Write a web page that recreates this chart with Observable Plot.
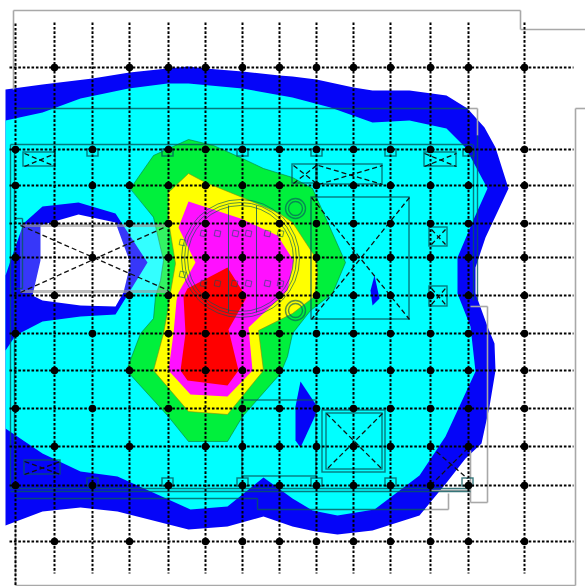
<!DOCTYPE html>
<html><head><meta charset="utf-8">
<script src="https://cdn.jsdelivr.net/npm/d3@7"></script>
<script src="https://cdn.jsdelivr.net/npm/@observablehq/plot@0.6"></script>
<style>html,body{margin:0;background:#fff}svg{display:block;filter:blur(.55px)}</style>
</head><body><div id="c"></div><script>
// contour bands (plan coordinates)
const outerBlue=[[5,89],[42,84],[92,78],[129,72],[167,68],[188,66],[205,68],[242,71],[279,75],[292,76],[316,79],[353,87],[372,90],[409,90],[446,95],[467,108],[484,127],[495,147],[508,188],[485,237],[475,267],[475,293],[487,326],[494,343],[495,370],[489,406],[481,443],[465,458],[447,481],[419,515],[372,530],[337,534],[315,531],[292,526],[263,516],[227,526],[188,529],[117,511],[80,507],[42,511],[5,525]];
const cyanField=[[5,120],[42,112],[80,98],[128,88],[167,83],[188,83],[242,88],[292,97],[330,107],[372,122],[409,120],[446,128],[465,147],[487,188],[474,217],[457,257],[457,293],[470,326],[475,371],[445,436],[419,475],[374,509],[337,515],[312,510],[292,498],[263,477],[227,506],[190,509],[117,476],[80,471],[42,453],[5,428]];
const holeRing=[[5,275],[23,223],[42,206],[78,202],[115,213],[128,233],[147,262],[128,293],[115,314],[80,316],[42,321],[15,335],[5,350]];
const holeWhite=[[40,225],[78,214],[115,222],[130,263],[123,292],[115,306],[80,305],[42,300],[32,295],[40,260]];
const greenBand=[[130,188],[153,155],[188,139],[213,145],[242,158],[263,168],[292,177],[312,188],[325,217],[345,262],[332,293],[310,310],[292,333],[287,356],[280,373],[242,416],[227,441],[188,441],[167,415],[126,370],[140,333],[153,318],[155,296],[160,280],[163,260],[153,217]];
const yellowBand=[[168,192],[188,173],[205,182],[242,197],[279,213],[292,222],[315,257],[317,273],[314,296],[292,313],[258,330],[263,370],[227,414],[188,411],[153,370],[163,333],[168,306],[170,292],[175,263],[168,220]];
const magentaBand=[[188,201],[240,218],[277,235],[293,260],[287,290],[248,327],[252,370],[227,396],[190,394],[168,370],[173,333],[176,300],[178,292],[195,262],[178,227]];
const redBand=[[227,267],[246,297],[228,329],[238,370],[227,385],[187,380],[180,370],[185,333],[183,296],[187,288]];
const blueSpot1=[[300,381],[318,408],[300,447],[295,440],[295,406]];
const blueSpot2=[[372,305],[379,298],[374,275],[370,290]];

// column grid
const colX=[15,54,92,129,168,205,242,279,316,353,390,430,468,524];
const rowY=[67,149,185,223,257,295,333,370,408,446,485,541];
const nodeCols={67:[54,129,168,205,242,279,316,353,390,430,468,524],
149:[15,92,168,205,242,279,316,353,390,430,468,524],
185:[15,92,129,168,205,242,279,316,353,390,430,468,524],
223:[54,129,168,205,242,279,316,353,390,430,468,524],
257:[15,92,168,205,242,279,316,353,390,430,468,524],
295:[54,129,168,205,242,279,316,353,390,430,468,524],
333:[15,92,168,205,242,279,316,353,390,430,468,524],
370:[54,129,205,242,279,316,353,390,430,468,524],
408:[15,92,168,242,279,316,353,390,430,468,524],
446:[54,129,205,242,279,316,353,390,430,468,524],
485:[15,92,168,242,279,316,353,390,430,468,524],
541:[54,129,205,242,279,316,353,390,430,468,524]};

// plan drawing
const grayLines=[[13,10,520,10],[520,10,520,29],[520,29,585,29],[13,10,13,89],[15,525,15,585],[15,585,575,585],[575,585,575,108],[575,108,585,108],[467,108,477,108],[477,108,477,135],[470,306,487,306],[487,306,487,502],[487,502,470,502],[470,502,470,450],[448,493,448,509],[448,509,425,509],[430,490,470,490]];
const wallLines=[[13,108,467,108],[10,144,472,144],[10,144,10,488],[14,146,14,486],[10,488,470,488],[10,491,470,491],[15,498,257,498],[257,498,257,509],[257,509,425,509],[473,144,473,300],[477,135,477,300],[16,218,22,218],[22,218,22,288],[16,288,22,288]];
const boxes=[[23,152,55,166],[24,460,60,474],[292,164,316,183],[317,164,382,184],[424,152,456,166],[429,227,447,246],[429,286,447,306],[311,197,409,319],[322,410,385,472],[326,413,382,469],[242,400,316,476]];
const tabs=[[87,149,98,156],[162,149,173,156],[237,149,248,156],[311,149,322,156],[385,149,396,156],[463,149,474,156],[87,478,98,486],[162,478,173,486],[237,478,248,486],[311,478,322,486],[385,478,396,486],[462,478,473,486]];
const crosses=[[20,225,168,290],[20,292,168,225],[24,153,55,166],[24,166,55,153],[24,461,60,474],[24,474,60,461],[293,165,316,183],[293,183,316,165],[318,165,382,184],[318,184,382,165],[424,153,456,166],[424,166,456,153],[431,229,445,244],[431,244,445,229],[431,288,445,304],[431,304,445,288],[311,197,409,319],[409,197,311,319],[326,413,382,469],[382,413,326,469],[430,446,467,478],[430,485,467,448]];
const domeLines=[[228,205,228,312],[256,205,256,312]];
const domeRings=[[240,258,53],[240,258,59],[240,258,56]];
const columnRings=[[295,208,10],[295,208,7],[295,310,10],[295,310,7]];
const padX=[203,217,235,248,267,280,203,217,234,248,267,280,182,182];
const padY=[233,233,233,233,233,233,283,283,283,283,283,283,242,274];

const poly=(pts,fill,stroke="none")=>Plot.line(pts,{x:d=>d[0],y:d=>d[1],fill,stroke,strokeWidth:.6,curve:"linear-closed"});
const segs=(arr,o)=>Plot.link(arr,{x1:d=>d[0],y1:d=>d[1],x2:d=>d[2],y2:d=>d[3],...o});
const rects=(arr,o)=>Plot.rect(arr,{x1:d=>d[0],y1:d=>d[1],x2:d=>d[2],y2:d=>d[3],fill:"none",...o});
const nodes=rowY.flatMap(y=>nodeCols[y].map(x=>[x,y]));
const teal={stroke:"#07585c",strokeWidth:1.4,strokeOpacity:.8};
const ringStyle={fill:"none",stroke:"#07585c",strokeWidth:1,strokeOpacity:.65};

const chart=Plot.plot({
  width:585,height:586,margin:0,
  x:{domain:[0,585],range:[0,585],axis:null},
  y:{domain:[0,586],range:[0,586],axis:null},
  r:{type:"identity"},
  marks:[
    poly(outerBlue,"#0505f8"),
    poly(cyanField,"#00ffff"),
    poly(holeRing,"#0505f8"),
    poly(holeWhite,"#ffffff"),
    poly(blueSpot1,"#0505f8"),
    poly(blueSpot2,"#0505f8"),
    poly(greenBand,"#00f03c","#0a7a3a"),
    poly(yellowBand,"#ffff00","#8a8a10"),
    poly(magentaBand,"#ff10ff"),
    poly(redBand,"#ff0000"),
    Plot.rect([[20,227,168,290]],{x1:d=>d[0],y1:d=>d[1],x2:d=>d[2],y2:d=>d[3],fill:"#fff",fillOpacity:.2}),
    segs(grayLines,{stroke:"#a8a8a8",strokeWidth:1.6}),
    segs([[20,225,168,225],[20,291,168,291]],{stroke:"#a0a0a0",strokeWidth:3,strokeOpacity:.7}),
    segs(wallLines,teal),
    rects(boxes,teal),
    rects(tabs,teal),
    segs(domeLines,{...teal,strokeWidth:1}),
    Plot.dot(domeRings,{x:d=>d[0],y:d=>d[1],r:d=>d[2],...ringStyle}),
    Plot.dot(columnRings,{x:d=>d[0],y:d=>d[1],r:d=>d[2],...ringStyle,strokeWidth:1.4}),
    Plot.dot(padX.map((x,i)=>[x,padY[i]]),{x:d=>d[0],y:d=>d[1],r:3.2,symbol:"square",rotate:12,fill:"none",stroke:"#07585c",strokeWidth:.8,strokeOpacity:.7}),
    segs(crosses,{stroke:"#111",strokeWidth:1.3,strokeDasharray:"5,3"}),
    segs(colX.map(x=>[x,x===15?23:22,x,x===15?585:573]),{stroke:"#000",strokeWidth:2,strokeDasharray:"2.6,1.8"}),
    segs(rowY.map(y=>[9,y,573,y]),{stroke:"#000",strokeWidth:2,strokeDasharray:"2.6,1.8"}),
    Plot.dot(nodes,{x:d=>d[0],y:d=>d[1],r:3.8,fill:"#000"})
  ]
});
chart.style.background="#fff";
document.getElementById("c").append(chart);
</script></body></html>
